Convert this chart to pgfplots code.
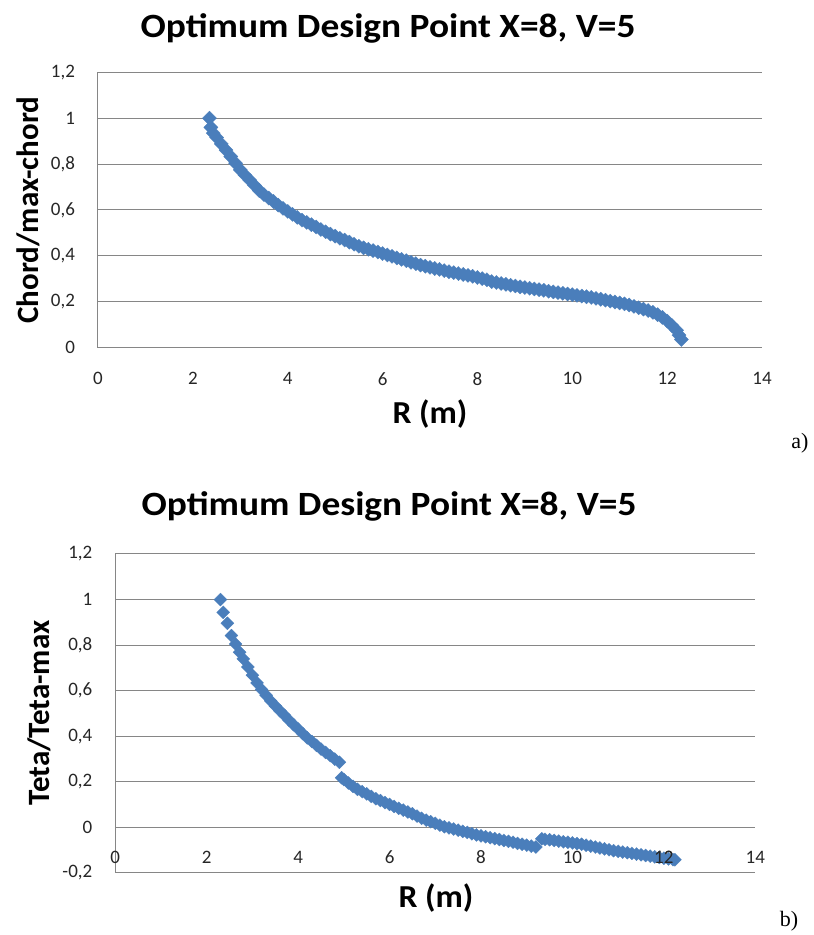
\documentclass[border=0pt]{standalone}
\usepackage{pgfplots}
\pgfplotsset{compat=1.18}
\usepackage{fontspec}
\setmainfont{Carlito}
\newfontfamily\serifabc{Liberation Serif}

\definecolor{xlblue}{RGB}{74,126,187}
\definecolor{gridgray}{RGB}{134,134,134}

\pgfplotsset{
  xlchart/.style={
    scale only axis,
    anchor=south west,
    xmin=0, xmax=14,
    xtick={0,2,4,6,8,10,12,14},
    axis y line*=left,
    y axis line style={draw=gridgray, line width=1pt},
    x axis line style={draw=gridgray, line width=1pt},
    tick style={draw=none},
    ymajorgrids,
    major grid style={draw=gridgray, line width=1pt},
    ticklabel style={font=\fontsize{19}{19}\selectfont, text=black!85},
    /pgf/number format/use comma,
    /pgf/number format/assume math mode=true,
    yticklabel style={xshift=-19.5pt},
    clip=false,
  },
  xlmarks/.style={
    only marks,
    mark=square*,
    mark size=#1,
    mark options={fill=xlblue, draw=xlblue, line width=0.3pt, rotate=45},
  },
}

\begin{document}
\begin{tikzpicture}[x=1pt,y=1pt]
\useasboundingbox (0,0) rectangle (814,935);

% ---- a) chord distribution
\begin{axis}[xlchart,
    at={(98pt,587.3pt)},
    width=664pt, height=275.4pt,
    ymin=0, ymax=1.2,
    ytick={0,0.2,0.4,0.6,0.8,1,1.2},
    axis x line*=bottom,
    xticklabel style={yshift=-21pt}]
\addplot[xlmarks=5pt] coordinates {
(2.35,1.000) (2.38,0.960) (2.43,0.935) (2.5,0.916) (2.6,0.888) (2.7,0.861)
(2.8,0.833) (2.9,0.804) (3.0,0.775) (3.1,0.752) (3.2,0.730) (3.3,0.707)
(3.4,0.685) (3.5,0.667) (3.6,0.652) (3.7,0.637) (3.8,0.621) (3.9,0.607)
(4.0,0.594) (4.1,0.581) (4.2,0.568) (4.3,0.556) (4.4,0.546) (4.5,0.536)
(4.6,0.526) (4.7,0.515) (4.8,0.505) (4.9,0.495) (5.0,0.486) (5.1,0.477)
(5.2,0.469) (5.3,0.460) (5.4,0.451) (5.5,0.442) (5.6,0.435) (5.7,0.429)
(5.8,0.423) (5.9,0.417) (6.0,0.410) (6.1,0.404) (6.2,0.398) (6.3,0.391)
(6.4,0.385) (6.5,0.379) (6.6,0.372) (6.7,0.366) (6.8,0.360) (6.9,0.355)
(7.0,0.350) (7.1,0.345) (7.2,0.341) (7.3,0.336) (7.4,0.331) (7.5,0.327)
(7.6,0.323) (7.7,0.319) (7.8,0.315) (7.9,0.311) (8.0,0.306) (8.1,0.301)
(8.2,0.296) (8.3,0.288) (8.4,0.284) (8.5,0.280) (8.6,0.276) (8.7,0.272)
(8.8,0.269) (8.9,0.265) (9.0,0.262) (9.1,0.259) (9.2,0.256) (9.3,0.253)
(9.4,0.250) (9.5,0.246) (9.6,0.243) (9.7,0.240) (9.8,0.237) (9.9,0.234)
(10.0,0.231) (10.1,0.228) (10.2,0.225) (10.3,0.222) (10.4,0.219) (10.5,0.215)
(10.6,0.211) (10.7,0.207) (10.8,0.203) (10.9,0.199) (11.0,0.195) (11.1,0.191)
(11.2,0.186) (11.3,0.180) (11.4,0.174) (11.5,0.168) (11.6,0.162) (11.7,0.154)
(11.8,0.144) (11.9,0.132) (12.0,0.116) (12.1,0.097) (12.2,0.076) (12.25,0.055)
(12.3,0.036)
};
\end{axis}

% ---- b) twist distribution
\begin{axis}[xlchart,
    at={(115.3pt,62pt)},
    width=640pt, height=319pt,
    ymin=-0.2, ymax=1.2,
    ytick={-0.2,0,0.2,0.4,0.6,0.8,1,1.2},
    axis x line*=middle,
    hide obscured x ticks=false,
    xticklabel style={yshift=-20pt}]
\addplot[xlmarks=4.6pt] coordinates {
(2.30,1.000) (2.36,0.944) (2.45,0.896) (2.54,0.842) (2.63,0.805) (2.72,0.769)
(2.8,0.740) (2.9,0.704) (3.0,0.668) (3.1,0.634) (3.2,0.605) (3.3,0.580)
(3.4,0.555) (3.5,0.533) (3.6,0.512) (3.7,0.492) (3.8,0.471) (3.9,0.451)
(4.0,0.432) (4.1,0.412) (4.2,0.393) (4.3,0.377) (4.4,0.360) (4.5,0.344)
(4.6,0.329) (4.7,0.315) (4.8,0.300) (4.9,0.286)
(4.95,0.218) (5.0,0.210) (5.1,0.195) (5.2,0.180) (5.3,0.167) (5.4,0.157)
(5.5,0.147) (5.6,0.136) (5.7,0.126) (5.8,0.118) (5.9,0.109) (6.0,0.101)
(6.1,0.092) (6.2,0.084) (6.3,0.076) (6.4,0.068) (6.5,0.060) (6.6,0.050)
(6.7,0.040) (6.8,0.032) (6.9,0.025) (7.0,0.018) (7.1,0.010) (7.2,0.003)
(7.3,-0.002) (7.4,-0.007) (7.5,-0.012) (7.6,-0.017) (7.7,-0.022) (7.8,-0.028)
(7.9,-0.033) (8.0,-0.037) (8.1,-0.041) (8.2,-0.045) (8.3,-0.049) (8.4,-0.053)
(8.5,-0.057) (8.6,-0.061) (8.7,-0.065) (8.8,-0.070) (8.9,-0.074) (9.0,-0.078)
(9.1,-0.082) (9.2,-0.086)
(9.33,-0.050) (9.4,-0.052) (9.5,-0.054) (9.6,-0.057) (9.7,-0.060) (9.8,-0.063)
(9.9,-0.065) (10.0,-0.068) (10.1,-0.071) (10.2,-0.074) (10.3,-0.078) (10.4,-0.082)
(10.5,-0.086) (10.6,-0.090) (10.7,-0.094) (10.8,-0.098) (10.9,-0.102) (11.0,-0.105)
(11.1,-0.108) (11.2,-0.111) (11.3,-0.114) (11.4,-0.117) (11.5,-0.120) (11.6,-0.123)
(11.7,-0.126) (11.8,-0.129) (11.9,-0.132) (12.0,-0.135) (12.1,-0.138) (12.2,-0.141)
(12.24,-0.142)
};
\coordinate (tick12) at (axis cs:12,0);
\end{axis}
% Excel prints the "12" tick label over the markers
\node[anchor=north, yshift=-20pt, font=\fontsize{19}{19}\selectfont, text=black!85]
  at (tick12) {12};

% titles, axis labels and panel letters (y = 935 - image row)
\node[font=\bfseries\fontsize{34}{34}\selectfont, xscale=1.1] at (388,907) {Optimum Design Point X=8, V=5};
\node[font=\bfseries\fontsize{34}{34}\selectfont, xscale=1.1] at (389,429) {Optimum Design Point X=8, V=5};
\node[font=\bfseries\fontsize{31}{31}\selectfont, rotate=90] at (28,725) {Chord/max-chord};
\node[font=\bfseries\fontsize{31}{31}\selectfont, rotate=90] at (39,222) {Teta/Teta-max};
\node[font=\bfseries\fontsize{32}{32}\selectfont, xscale=1.05] at (430,521) {R (m)};
\node[font=\bfseries\fontsize{32}{32}\selectfont, xscale=1.05] at (436,37) {R (m)};
\node[font=\serifabc\fontsize{22}{22}\selectfont] at (800,492) {a)};
\node[font=\serifabc\fontsize{22}{22}\selectfont] at (789,14) {b)};
\end{tikzpicture}
\end{document}
